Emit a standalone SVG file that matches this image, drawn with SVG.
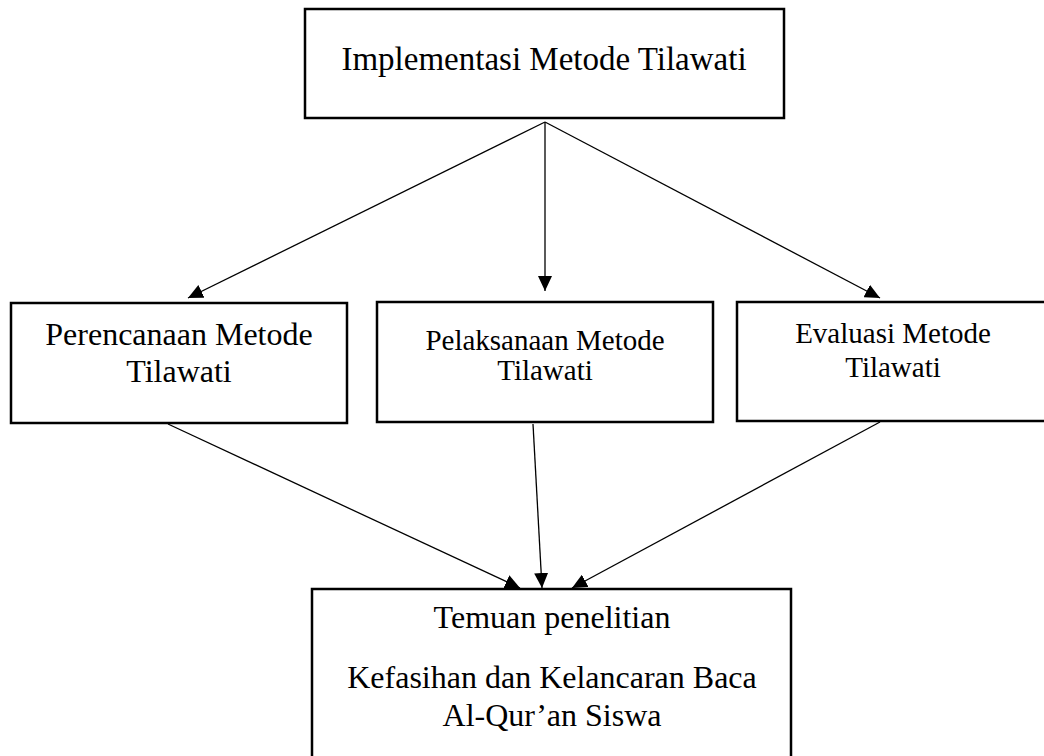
<svg xmlns="http://www.w3.org/2000/svg" width="1044" height="756" viewBox="0 0 1044 756">
<defs>
<style>
.box{fill:#fff;stroke:#000;stroke-width:2.5}
.t{font-family:"Liberation Serif","Times New Roman",serif;fill:#000;text-anchor:middle}
.c{stroke:#000;stroke-width:1.3;fill:none;marker-end:url(#ah)}
</style>
<marker id="ah" markerUnits="userSpaceOnUse" markerWidth="15" markerHeight="14" refX="15" refY="7" orient="auto">
<path d="M0,0 L15,7 L0,14 z" fill="#000"/>
</marker>
</defs>
<rect width="1044" height="756" fill="#fff"/>
<g id="connectors">
<line class="c" x1="545" y1="122" x2="188" y2="298"/>
<line class="c" x1="545" y1="122" x2="545" y2="291"/>
<line class="c" x1="545" y1="122" x2="880" y2="298"/>
<line class="c" x1="168" y1="424" x2="520" y2="588"/>
<line class="c" x1="533" y1="424" x2="542" y2="588"/>
<line class="c" x1="880" y1="422" x2="572" y2="588"/>
</g>
<g id="n-implementasi">
<rect class="box" x="305" y="9" width="479" height="109"/>
<text class="t" x="544" y="70" font-size="33">Implementasi Metode Tilawati</text>
</g>
<g id="n-perencanaan">
<rect class="box" x="11" y="303" width="336" height="120"/>
<text class="t" x="179" y="345" font-size="32">Perencanaan Metode</text>
<text class="t" x="179" y="382" font-size="32">Tilawati</text>
</g>
<g id="n-pelaksanaan">
<rect class="box" x="377" y="302" width="336" height="120"/>
<text class="t" x="545" y="350" font-size="29">Pelaksanaan Metode</text>
<text class="t" x="545" y="380" font-size="29">Tilawati</text>
</g>
<g id="n-evaluasi">
<rect class="box" x="737" y="302" width="312" height="119"/>
<text class="t" x="893" y="343" font-size="29">Evaluasi Metode</text>
<text class="t" x="893" y="377" font-size="29">Tilawati</text>
</g>
<g id="n-temuan">
<rect class="box" x="312" y="589" width="479" height="172"/>
<text class="t" x="552" y="628" font-size="32">Temuan penelitian</text>
<text class="t" x="552" y="688" font-size="32">Kefasihan dan Kelancaran Baca</text>
<text class="t" x="552" y="726" font-size="32">Al-Qur’an Siswa</text>
</g>
</svg>
